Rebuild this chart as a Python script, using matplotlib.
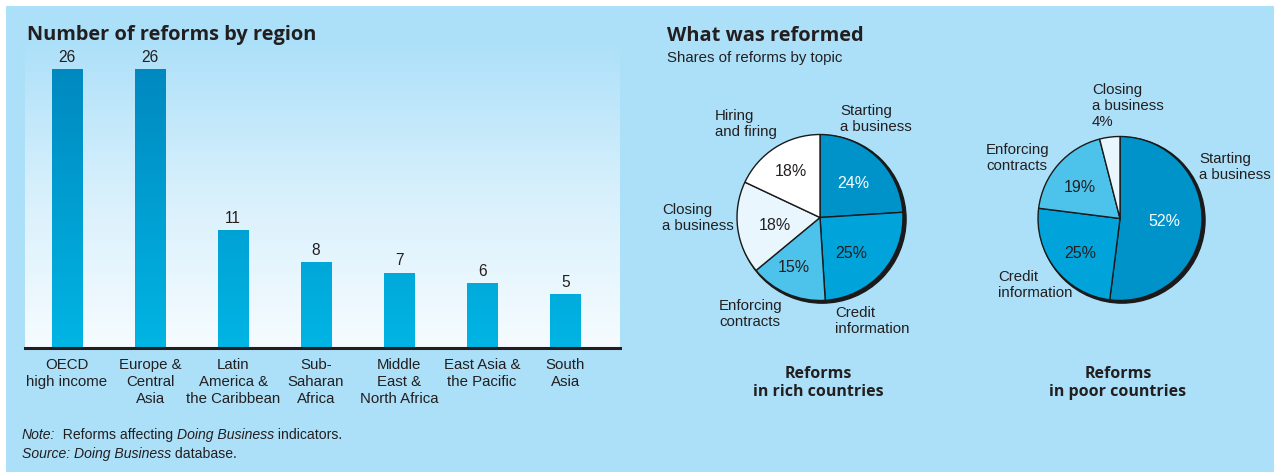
import matplotlib
matplotlib.use("Agg")
import matplotlib.pyplot as plt
import numpy as np
from matplotlib import font_manager
from matplotlib.transforms import Affine2D
from matplotlib.patches import Circle, Rectangle
from matplotlib.colors import LinearSegmentedColormap

# ---------------- data ----------------
regions = ["OECD\nhigh income", "Europe &\nCentral\nAsia", "Latin\nAmerica &\nthe Caribbean",
           "Sub-\nSaharan\nAfrica", "Middle\nEast &\nNorth Africa", "East Asia &\nthe Pacific",
           "South\nAsia"]
reform_counts = [26, 26, 11, 8, 7, 6, 5]

rich_topics = ["Starting\na business", "Credit\ninformation", "Enforcing\ncontracts",
               "Closing\na business", "Hiring\nand firing"]
rich_shares = [24, 25, 15, 18, 18]

poor_topics = ["Starting\na business", "Credit\ninformation", "Enforcing\ncontracts",
               "Closing\na business"]
poor_shares = [52, 25, 19, 4]

# ---------------- style ----------------
names = {f.name for f in font_manager.fontManager.ttflist}
NARROW = "Liberation Sans Narrow" if "Liberation Sans Narrow" in names else "Liberation Sans"
BOLD = "Open Sans"
TXT = "#231f20"
BG = "#ace0f9"
slice_colors = {"Starting\na business": "#0093c9", "Credit\ninformation": "#00a3da",
                "Enforcing\ncontracts": "#4dc3eb", "Closing\na business": "#e9f6fd",
                "Hiring\nand firing": "#ffffff"}

W, H = 1274, 472
fig = plt.figure(figsize=(W / 100, H / 100), dpi=100)
fig.patch.set_facecolor("white")
PX = Affine2D().scale(1 / W, -1 / H).translate(0, 1) + fig.transFigure


def ax_px(x0, y0, x1, y1, **kw):
    return fig.add_axes([x0 / W, 1 - y1 / H, (x1 - x0) / W, (y1 - y0) / H], **kw)


def pt(px):
    return px * 0.72


# blue background
fig.patches.append(Rectangle((6, 6), W - 6, H - 6, transform=PX, facecolor=BG,
                             edgecolor="none", zorder=-5))

# ---------------- bar chart ----------------
ax = ax_px(25, 40, 620, 348)
ax.set_facecolor("none")
grad = np.linspace(0, 1, 256).reshape(-1, 1)
panel_cmap = LinearSegmentedColormap.from_list("p", ["#f6fcff", "#d8f0fc", "#ace0f9"])
ax.imshow(grad, cmap=panel_cmap, aspect="auto", extent=[0, 1, 0, 1],
          transform=ax.transAxes, origin="lower", zorder=0)
bar_cmap = LinearSegmentedColormap.from_list("b", ["#00b5e4", "#0089c0"])
xs = np.arange(len(regions))
bw = 0.37
vmax = max(reform_counts)
bars = ax.bar(xs, reform_counts, width=bw, color="none", zorder=2)
for b, v in zip(bars, reform_counts):
    x0 = b.get_x()
    g = np.linspace(0, v / vmax, 256).reshape(-1, 1)
    ax.imshow(g, cmap=bar_cmap, vmin=0, vmax=1, aspect="auto", origin="lower",
              extent=[x0, x0 + bw, 0, v], zorder=2)
    ax.text(b.get_x() + bw / 2, v + 0.45, str(v), ha="center", va="bottom",
            fontsize=pt(15.5), family=NARROW, color=TXT)
ax.set_xlim(-0.506, 6.66)
ax.set_ylim(0, 28.8)
ax.axhline(0, color="#231f20", lw=2.2, zorder=3, clip_on=False)
for s in ax.spines.values():
    s.set_visible(False)
ax.set_yticks([])
ax.set_xticks(xs)
ax.set_xticklabels(regions, fontsize=pt(15), family=NARROW, color=TXT, linespacing=1.3)
ax.tick_params(axis="x", length=0, pad=7)

fig.text(27, 40, "Number of reforms by region", transform=PX, fontsize=pt(20),
         family=BOLD, weight="bold", color=TXT, va="baseline")

# notes with mixed italics
def run_line(x, y, parts):
    fig.canvas.draw()
    r = fig.canvas.get_renderer()
    for s, style in parts:
        t = fig.text(x, y, s, transform=PX, fontsize=pt(14), family=NARROW,
                     style=style, color=TXT, va="baseline")
        bb = t.get_window_extent(renderer=r)
        x += bb.width

run_line(22, 439, [("Note:", "italic"), ("  Reforms affecting ", "normal"),
                   ("Doing Business", "italic"), (" indicators.", "normal")])
run_line(22, 458, [("Source: Doing Business", "italic"), (" database.", "normal")])

# ---------------- pies ----------------
fig.text(667, 41, "What was reformed", transform=PX, fontsize=pt(20),
         family=BOLD, weight="bold", color=TXT, va="baseline")
fig.text(667, 62, "Shares of reforms by topic", transform=PX, fontsize=pt(15),
         family=NARROW, color=TXT, va="baseline")


def draw_pie(cx, cy, r, topics, shares, pct_pos, lab_pos, title):
    half = 130
    pa = ax_px(cx - half, cy - half, cx + half, cy + half)
    lim = half / r
    pa.axis("off")
    pa.add_patch(Circle((0.025, -0.02), 1.012, color="#1a1a1a", zorder=1))
    wedges, _ = pa.pie(shares, colors=[slice_colors[t] for t in topics], startangle=90,
                       counterclock=False, radius=1.0,
                       wedgeprops=dict(edgecolor="#1a1a1a", linewidth=1.0))
    for w in wedges:
        w.set_zorder(2)
    pa.set_xlim(-lim, lim)
    pa.set_ylim(-lim, lim)
    for t, v, p in zip(topics, shares, pct_pos):
        if p is None:
            continue
        col = "white" if t.startswith("Starting") else TXT
        fig.text(p[0], p[1], f"{v}%", transform=PX, fontsize=pt(16), family=NARROW,
                 color=col, ha="center", va="center")
    for t, v, p in zip(topics, shares, lab_pos):
        s = t if p[2] is False else t + f"\n{v}%"
        fig.text(p[0], p[1], s, transform=PX, fontsize=pt(15), family=NARROW,
                 color=TXT, ha="left", va="center", linespacing=1.22)
    fig.text(cx - 2, 383, title, transform=PX, fontsize=pt(16), family=BOLD,
             weight="bold", color=TXT, ha="center", va="center", linespacing=1.1)


draw_pie(820, 217.5, 83, rich_topics, rich_shares,
         [(853, 184), (851, 253), (794, 267), (775, 225), (791, 171)],
         [(840, 119, False), (835, 321, False), (719, 314, False), (662, 218, False),
          (715, 124, False)],
         "Reforms\nin rich countries")

draw_pie(1120, 218.5, 82, poor_topics, poor_shares,
         [(1164, 222), (1080, 253), (1080, 188), None],
         [(1199, 167, False), (998, 285, False), (986, 158, False), (1092, 106, True)],
         "Reforms\nin poor countries")

fig.savefig("out.png", dpi=100, facecolor=fig.get_facecolor())
